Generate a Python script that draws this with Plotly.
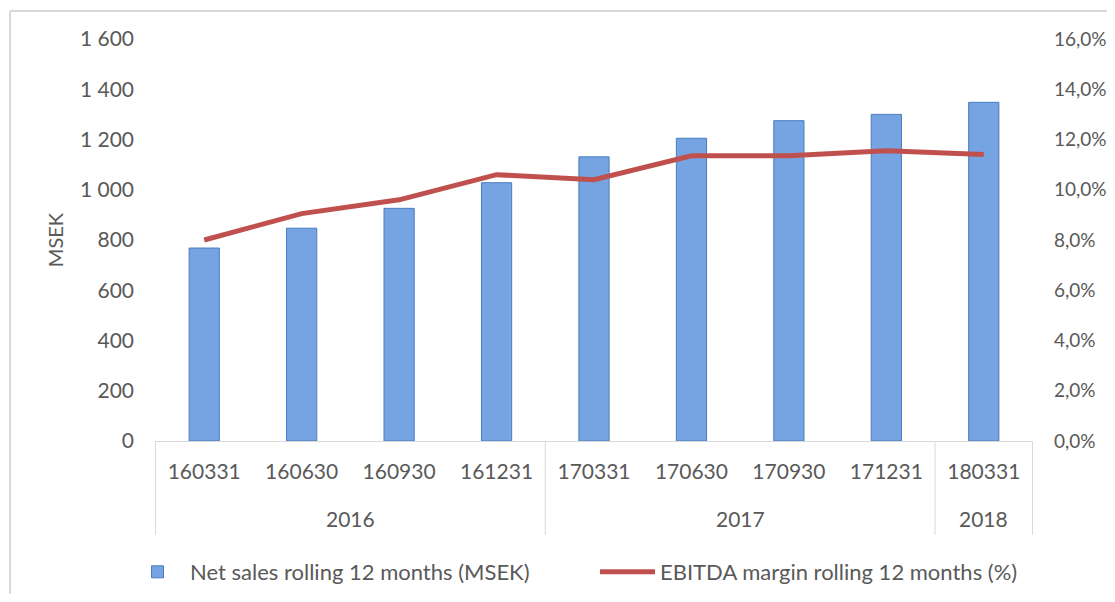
import plotly.graph_objects as go

years = ["2016", "2016", "2016", "2016", "2017", "2017", "2017", "2017", "2018"]
periods = ["160331", "160630", "160930", "161231", "170331", "170630", "170930", "171231", "180331"]
net_sales = [768, 847, 926, 1028, 1131, 1205, 1275, 1300, 1348]
ebitda_margin = [8.0, 9.05, 9.6, 10.6, 10.4, 11.35, 11.35, 11.55, 11.4]
left_ticks = [0, 200, 400, 600, 800, 1000, 1200, 1400, 1600]
right_ticks = [0, 2, 4, 6, 8, 10, 12, 14, 16]

font_family = "Lato, 'Open Sans', sans-serif"
txt = "#595959"
grid_c = "#D9D9D9"

# page body has an 8px margin, so the figure is sized/placed accordingly
W, H = 1099, 586
L, T = 147, 31
R = W - 1025
B = H - 433
pw, ph = W - L - R, H - T - B

fig = go.Figure()
fig.add_trace(go.Bar(
    x=periods, y=net_sales,
    name="Net sales rolling 12 months (MSEK)",
    marker=dict(color="#76A4E3", line=dict(color="#4A7CC0", width=1)),
    width=0.31,
))
fig.add_trace(go.Scatter(
    x=periods, y=ebitda_margin,
    name="EBITDA margin rolling 12 months (%)",
    mode="lines", line=dict(color="#C0504D", width=5),
    yaxis="y2",
))

# year groups derived from the data
groups = []
for i, yv in enumerate(years):
    if groups and groups[-1][0] == yv:
        groups[-1][2] = i
    else:
        groups.append([yv, i, i])

shapes = []
annotations = []
bounds = sorted(set([g[1] - 0.5 for g in groups] + [g[2] + 0.5 for g in groups]))
for b in bounds:
    shapes.append(dict(type="line", xref="x", yref="paper", x0=b, x1=b, y0=0, y1=-94 / ph,
                       line=dict(color=grid_c, width=1)))
for yv, a, b in groups:
    annotations.append(dict(text=yv, xref="x", yref="paper", x=(a + b) / 2, y=-78 / ph,
                            showarrow=False, yanchor="middle",
                            font=dict(size=21, color=txt, family=font_family)))

# outer frame (left and top edges)
fx = -(L - 2) / pw
fy = 1 + (T - 3) / ph
shapes.append(dict(type="line", xref="paper", yref="paper", x0=fx, x1=1.2,
                   y0=fy, y1=fy, line=dict(color=grid_c, width=2)))
shapes.append(dict(type="line", xref="paper", yref="paper", x0=fx, x1=fx,
                   y0=fy, y1=-(B + 5) / ph, line=dict(color=grid_c, width=2)))

fig.update_layout(
    width=W, height=H,
    margin=dict(l=L, r=R, t=T, b=B, autoexpand=False),
    paper_bgcolor="white", plot_bgcolor="white",
    separators=", ",
    font=dict(family=font_family, size=20, color=txt),
    showlegend=True,
    legend=dict(orientation="h", x=-30 / pw, xanchor="left", y=-131 / ph, yanchor="middle",
                entrywidth=400, font=dict(size=22, color=txt), itemwidth=55,
                bgcolor="rgba(0,0,0,0)"),
    xaxis=dict(type="category", showline=True, linecolor=grid_c, linewidth=1,
               ticks="", showgrid=False, tickfont=dict(size=21, color=txt),
               ticklabelstandoff=12),
    yaxis=dict(range=[0, 1600], tickvals=left_ticks,
               tickformat=",d", showgrid=False, zeroline=False, showline=False,
               title=dict(text="MSEK", standoff=10, font=dict(size=20, color=txt)),
               tickfont=dict(size=21, color=txt), ticklabelstandoff=20),
    yaxis2=dict(range=[0, 16], overlaying="y", side="right",
                tickvals=right_ticks, ticktext=[f"{v:.1f}".replace(".", ",") + "%" for v in right_ticks],
                showgrid=False, zeroline=False, showline=False,
                tickfont=dict(size=19, color=txt), ticklabelstandoff=20),
    shapes=shapes,
    annotations=annotations,
)

fig.write_html("out.html")
